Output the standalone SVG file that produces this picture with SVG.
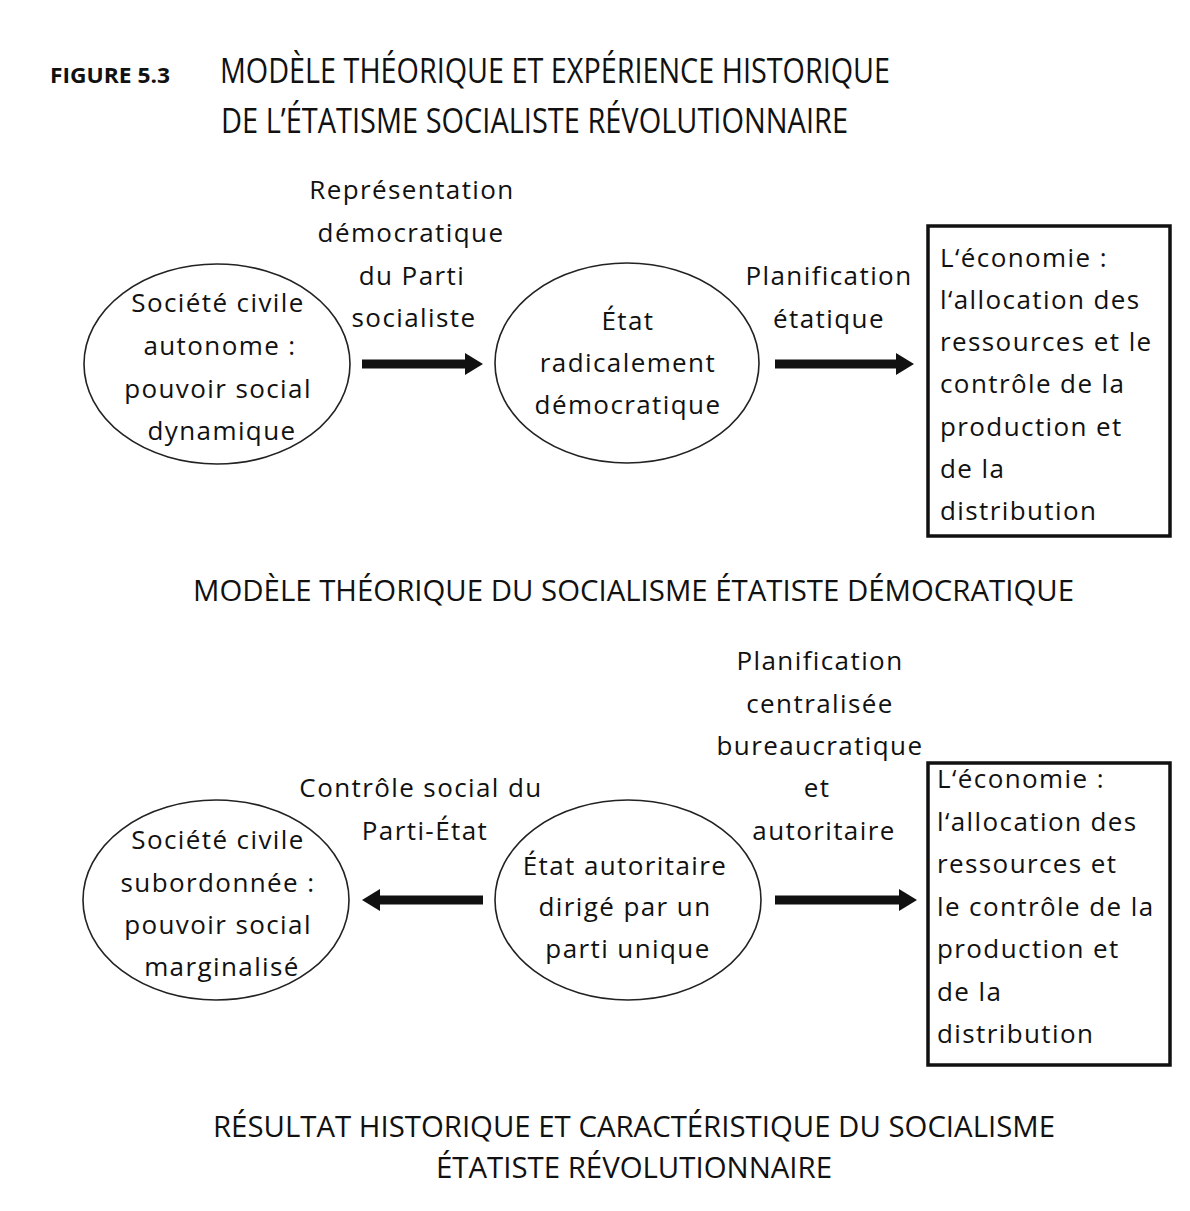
<svg xmlns="http://www.w3.org/2000/svg" width="1190" height="1211" viewBox="0 0 1190 1211">
<defs>
<style>
.t{font-family:"Open Sans","Noto Sans","DejaVu Sans",sans-serif;font-size:26px;letter-spacing:1.4px;fill:#111;text-anchor:middle}
.bx{font-family:"Open Sans","Noto Sans","DejaVu Sans",sans-serif;font-size:26px;letter-spacing:1.4px;fill:#111}
.cap{font-family:"Open Sans","Noto Sans","DejaVu Sans",sans-serif;fill:#111}
.el{fill:#fff;stroke:#222;stroke-width:1.6}
.box{fill:#fff;stroke:#111;stroke-width:3.5}
.ar{stroke:#111;stroke-width:9;fill:none}
</style>
<marker id="ah" markerUnits="userSpaceOnUse" markerWidth="20" markerHeight="24" refX="0" refY="12" orient="auto">
<path d="M0,1 L18,12 L0,23 Z" fill="#111"/>
</marker>
</defs>
<rect width="1190" height="1211" fill="#fff"/>

<g id="title">
<text class="cap" x="50" y="83" font-size="21" font-weight="bold" textLength="120" lengthAdjust="spacingAndGlyphs">FIGURE 5.3</text>
<text class="cap" x="220" y="83" font-size="34" textLength="670" lengthAdjust="spacingAndGlyphs">MODÈLE THÉORIQUE ET EXPÉRIENCE HISTORIQUE</text>
<text class="cap" x="221" y="133" font-size="34" textLength="627" lengthAdjust="spacingAndGlyphs">DE L’ÉTATISME SOCIALISTE RÉVOLUTIONNAIRE</text>
</g>

<g id="connectors">
<line class="ar" x1="362" y1="364" x2="465" y2="364" marker-end="url(#ah)"/>
<line class="ar" x1="775" y1="364" x2="896" y2="364" marker-end="url(#ah)"/>
<line class="ar" x1="483" y1="900" x2="380" y2="900" marker-end="url(#ah)"/>
<line class="ar" x1="775" y1="900" x2="899" y2="900" marker-end="url(#ah)"/>
</g>

<g id="label-representation">
<text class="t" x="412" y="199">Représentation</text>
<text class="t" x="411" y="242">démocratique</text>
<text class="t" x="412" y="285">du Parti</text>
<text class="t" x="414" y="327">socialiste</text>
</g>
<g id="label-planification1">
<text class="t" x="829" y="285">Planification</text>
<text class="t" x="829" y="328">étatique</text>
</g>

<g id="societe-autonome">
<ellipse class="el" cx="217" cy="364" rx="133" ry="100"/>
<text class="t" x="218" y="312">Société civile</text>
<text class="t" x="220" y="355">autonome :</text>
<text class="t" x="218" y="398">pouvoir social</text>
<text class="t" x="222" y="440">dynamique</text>
</g>

<g id="etat-democratique">
<ellipse class="el" cx="627" cy="363" rx="132" ry="100"/>
<text class="t" x="628" y="330">État</text>
<text class="t" x="628" y="372">radicalement</text>
<text class="t" x="628" y="414">démocratique</text>
</g>

<g id="economie1">
<rect class="box" x="928" y="226" width="242" height="310"/>
<text class="bx" x="940" y="267">L‘économie :</text>
<text class="bx" x="940" y="309">l‘allocation des</text>
<text class="bx" x="940" y="351">ressources et le</text>
<text class="bx" x="940" y="393">contrôle de la</text>
<text class="bx" x="940" y="436">production et</text>
<text class="bx" x="940" y="478">de la</text>
<text class="bx" x="940" y="520">distribution</text>
</g>

<g id="caption1">
<text class="cap" x="193" y="601" font-size="30" textLength="881" lengthAdjust="spacingAndGlyphs">MODÈLE THÉORIQUE DU SOCIALISME ÉTATISTE DÉMOCRATIQUE</text>
</g>

<g id="label-planification2">
<text class="t" x="820" y="670">Planification</text>
<text class="t" x="820" y="713">centralisée</text>
<text class="t" x="820" y="755">bureaucratique</text>
<text class="t" x="817" y="797">et</text>
<text class="t" x="824" y="840">autoritaire</text>
</g>
<g id="label-controle">
<text class="t" x="421" y="797">Contrôle social du</text>
<text class="t" x="425" y="840">Parti-État</text>
</g>

<g id="societe-subordonnee">
<ellipse class="el" cx="216" cy="900" rx="133" ry="100"/>
<text class="t" x="218" y="849">Société civile</text>
<text class="t" x="218" y="892">subordonnée :</text>
<text class="t" x="218" y="934">pouvoir social</text>
<text class="t" x="222" y="976">marginalisé</text>
</g>

<g id="etat-autoritaire">
<ellipse class="el" cx="628" cy="900" rx="133" ry="100"/>
<text class="t" x="625" y="875">État autoritaire</text>
<text class="t" x="625" y="916">dirigé par un</text>
<text class="t" x="628" y="958">parti unique</text>
</g>

<g id="economie2">
<rect class="box" x="928" y="763" width="242" height="302"/>
<text class="bx" x="937" y="788">L‘économie :</text>
<text class="bx" x="937" y="831">l‘allocation des</text>
<text class="bx" x="937" y="873">ressources et</text>
<text class="bx" x="937" y="916">le contrôle de la</text>
<text class="bx" x="937" y="958">production et</text>
<text class="bx" x="937" y="1001">de la</text>
<text class="bx" x="937" y="1043">distribution</text>
</g>

<g id="caption2">
<text class="cap" x="213" y="1137" font-size="30" textLength="842" lengthAdjust="spacingAndGlyphs">RÉSULTAT HISTORIQUE ET CARACTÉRISTIQUE DU SOCIALISME</text>
<text class="cap" x="436" y="1178" font-size="30" textLength="396" lengthAdjust="spacingAndGlyphs">ÉTATISTE RÉVOLUTIONNAIRE</text>
</g>
</svg>
